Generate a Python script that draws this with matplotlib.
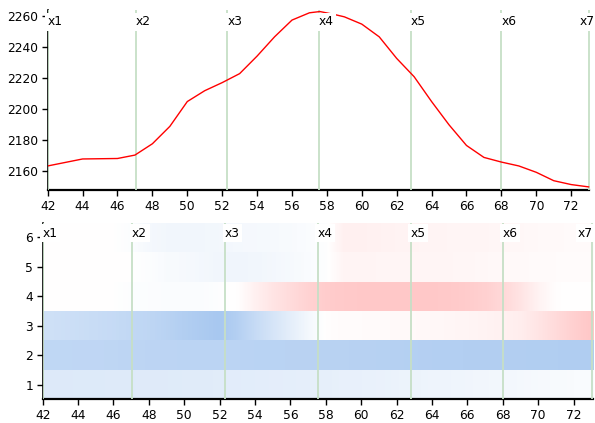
import numpy as np
import matplotlib
matplotlib.use("Agg")
import matplotlib.pyplot as plt
import matplotlib.transforms as mtransforms
from matplotlib.colors import LinearSegmentedColormap

# Line series
x_curve = [42, 44, 46, 47, 48, 49, 50, 51, 52, 53, 54, 55, 56, 57, 57.6, 58.4,
           59, 60, 61, 62, 63, 64, 65, 66, 67, 68, 69, 70, 71, 72, 73]
y_curve = [2163.5, 2168, 2168.3, 2170.5, 2177.8, 2189, 2205, 2212, 2217.2, 2223,
           2234.3, 2246.7, 2257.5, 2262.2, 2263, 2261.2, 2259.6, 2254.9, 2246.7,
           2232.8, 2221, 2205, 2190, 2176.7, 2169, 2166, 2163.5, 2159.4, 2154,
           2151.5, 2150]

# Marker positions and names
marker_x = [42, 47.05, 52.3, 57.55, 62.8, 68.0, 73.05]
marker_labels = ["x1", "x2", "x3", "x4", "x5", "x6", "x7"]

# Heat map: one row per level (1..6), one value per integer x from 42 to 73
heat_x = list(range(42, 74))
row1 = [-0.39, -0.39, -0.38, -0.38, -0.37, -0.37, -0.36, -0.36, -0.35, -0.35, -0.34,
        -0.33, -0.32, -0.31, -0.30, -0.29, -0.28, -0.26, -0.25, -0.24, -0.22, -0.21,
        -0.19, -0.18, -0.17, -0.15, -0.14, -0.12, -0.10, -0.09, -0.07, -0.06]
row2 = [-0.72, -0.72, -0.73, -0.73, -0.74, -0.75, -0.76, -0.76, -0.77, -0.77, -0.78,
        -0.78, -0.79, -0.79, -0.80, -0.80, -0.81, -0.81, -0.82, -0.83, -0.84, -0.85,
        -0.86, -0.86, -0.87, -0.87, -0.88, -0.88, -0.89, -0.89, -0.90, -0.90]
row3 = [-0.55, -0.57, -0.60, -0.63, -0.66, -0.70, -0.74, -0.80, -0.88, -0.94, -1.00,
        -0.85, -0.65, -0.47, -0.30, -0.13, 0.02, 0.06, 0.07, 0.08, 0.09, 0.10,
        0.12, 0.14, 0.17, 0.20, 0.24, 0.30, 0.45, 0.62, 0.80, 0.95]
row4 = [0.00, 0.00, 0.00, 0.00, 0.00, -0.03, -0.04, -0.05, -0.05, -0.05, -0.02,
        0.02, 0.25, 0.45, 0.60, 0.75, 0.85, 0.90, 0.92, 0.92, 0.92, 0.92,
        0.92, 0.90, 0.85, 0.78, 0.65, 0.45, 0.20, 0.02, 0.00, 0.00]
row5 = [0.00, 0.00, 0.00, 0.00, 0.00, 0.00, -0.03, -0.08, -0.10, -0.13, -0.16,
        -0.17, -0.16, -0.13, -0.10, -0.06, -0.02, 0.18, 0.18, 0.17, 0.17, 0.16,
        0.15, 0.15, 0.14, 0.12, 0.10, 0.09, 0.08, 0.07, 0.06, 0.05]
row6 = [0.00, 0.00, 0.00, 0.00, 0.00, -0.04, -0.12, -0.15, -0.15, -0.15, -0.14,
        -0.12, -0.11, -0.10, -0.08, -0.05, -0.02, 0.25, 0.24, 0.22, 0.20, 0.19,
        0.18, 0.17, 0.16, 0.15, 0.14, 0.12, 0.10, 0.09, 0.08, 0.07]
heat_rows = [row1, row2, row3, row4, row5, row6]

line_red = "#ff0000"
marker_green = "#c6dfc6"
cmap = LinearSegmentedColormap.from_list("bwr_soft", ["#a8c8f0", "#ffffff", "#ffc4c4"])

plt.rcParams["font.family"] = ["DejaVu Sans"]
plt.rcParams["font.size"] = 8.8

fig = plt.figure(figsize=(5.95, 4.23), dpi=100)
W, H = 595.0, 423.0


def ax_rect(left, right, top, bottom):
    return [left / W, 1 - bottom / H, (right - left) / W, (bottom - top) / H]


def style_axes(ax):
    for s in ("top", "right"):
        ax.spines[s].set_visible(False)
    ax.spines["bottom"].set_linewidth(1.6)
    ax.spines["left"].set_linewidth(1.2)
    ax.spines["bottom"].set_color("black")
    ax.spines["left"].set_color("black")
    ax.tick_params(direction="out", length=4, width=1.0, colors="black", pad=3)


def draw_markers(ax, ytext, last_shift):
    base = ax.get_xaxis_transform()
    for i, (xm, lab) in enumerate(zip(marker_x, marker_labels)):
        ax.axvline(xm, color=marker_green, lw=1.3, zorder=3)
        tr = base
        if i == len(marker_x) - 1:
            # keep the last name inside the figure
            tr = mtransforms.offset_copy(base, fig=fig, x=last_shift, y=0, units="dots")
        ax.text(xm, ytext, lab, ha="left", va="center", fontsize=8.8, zorder=6,
                transform=tr, clip_on=False,
                bbox=dict(facecolor="white", edgecolor="none", pad=1.8))


# Top: line chart
ax1 = fig.add_axes(ax_rect(47.7, 589.5, 10, 190))
ax1.plot(x_curve, y_curve, color=line_red, lw=1.0, zorder=4)
ax1.set_xlim(42, 73.05)
ax1.set_ylim(2148, 2264)
ax1.set_yticks([2160, 2180, 2200, 2220, 2240, 2260])
ax1.set_xticks(list(range(42, 74, 2)))
style_axes(ax1)
draw_markers(ax1, 0.934, -10)

# Bottom: heat map
ax2 = fig.add_axes(ax_rect(42.7, 593, 222.7, 399.3))
for level, vals in enumerate(heat_rows, start=1):
    ax2.imshow(np.array([vals]), cmap=cmap, vmin=-1, vmax=1, aspect="auto",
               interpolation="bilinear",
               extent=(heat_x[0] - 0.5, heat_x[-1] + 0.5, level - 0.5, level + 0.5),
               zorder=1)
ax2.set_xlim(42, 73.1)
ax2.set_ylim(0.5, 6.5)
ax2.set_yticks([1, 2, 3, 4, 5, 6])
ax2.set_xticks(list(range(42, 74, 2)))
style_axes(ax2)
draw_markers(ax2, 0.94, -14)

fig.savefig("out.png", dpi=100)
